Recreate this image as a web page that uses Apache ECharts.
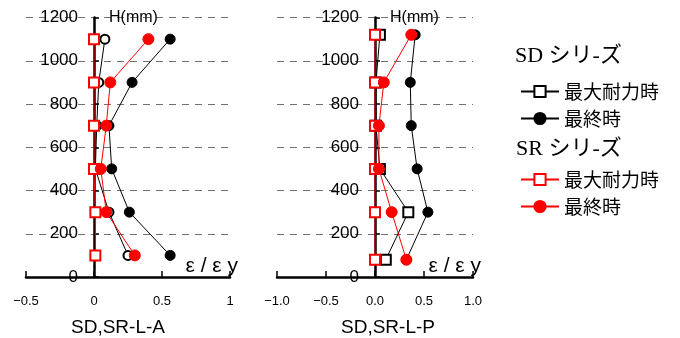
<!DOCTYPE html>
<html>
<head>
    <meta charset="utf-8"/>
    <title>ECharts</title>
    <script src="https://cdn.jsdelivr.net/npm/echarts@6/dist/echarts.min.js"></script>
    <style>
        body { margin: 0; background: #fff; }
    </style>
</head>
<body>
<div id="main" style="width: 680px; height: 338px;"></div>
<script type="text/javascript">
    // 高さ (mm)
    var heightsA = [1100, 900, 700, 500, 300, 100];
    var heightsP = [1120, 900, 700, 500, 300, 80];

    // ε / εy  (L-A)
    var sdMaxA = [0.08, 0.035, 0.02, 0.01, 0.11, 0.25];
    var sdFinA = [0.56, 0.28, 0.11, 0.13, 0.26, 0.56];
    var srMaxA = [0.0, 0.0, 0.0, 0.0, 0.01, 0.01];
    var srFinA = [0.40, 0.12, 0.09, 0.05, 0.09, 0.30];

    // ε / εy  (L-P)
    var sdMaxP = [0.05, 0.01, 0.01, 0.05, 0.34, 0.11];
    var sdFinP = [0.41, 0.36, 0.37, 0.43, 0.54, 0.32];
    var srMaxP = [0.0, 0.0, 0.0, 0.0, 0.0, 0.0];
    var srFinP = [0.37, 0.09, 0.04, 0.04, 0.17, 0.32];

    var yTicks = [0, 200, 400, 600, 800, 1000, 1200];
    var xLabelsA = {'-0.5': '−0.5', '0': '0', '0.5': '0.5', '1': '1'};
    var xLabelsP = {'-1': '−1.0', '-0.5': '−0.5', '0': '0.0', '0.5': '0.5', '1': '1.0'};

    function pairs(xs, hs) {
        return xs.map(function (v, i) { return [v, hs[i]]; });
    }

    var font = 'Liberation Sans, Arial, Noto Sans CJK JP, sans-serif';

    // グリッドの位置（px）
    var grids = [
        {left: 26, width: 204, xmin: -0.5},
        {left: 277, width: 196, xmin: -1}
    ];

    function makeX(idx, labels) {
        return {
            gridIndex: idx,
            type: 'value',
            min: grids[idx].xmin, max: 1, interval: 0.5,
            axisLine: {onZero: false, lineStyle: {color: '#000', width: 2.5}},
            axisTick: {inside: true, length: 6, lineStyle: {width: 1.5}},
            axisLabel: {
                margin: 18, color: '#000', fontSize: 13, fontFamily: font,
                formatter: function (v) { return labels[String(v)]; }
            },
            splitLine: {show: false},
            name: 'ε / ε y',
            nameLocation: 'end',
            nameGap: 8,
            nameTextStyle: {
                color: '#000', fontSize: 21, fontFamily: font,
                align: 'right', verticalAlign: 'bottom', padding: [0, 0, 0, 0]
            }
        };
    }

    function makeY(idx) {
        var g = grids[idx];
        // y軸を x=0 の位置へずらす
        var zeroPx = g.width * (0 - g.xmin) / (1 - g.xmin);
        return {
            gridIndex: idx,
            type: 'value',
            min: yTicks[0], max: yTicks[yTicks.length - 1], interval: 200,
            offset: -zeroPx,
            axisLine: {onZero: false, lineStyle: {color: '#000', width: 2.5}},
            axisTick: {inside: true, length: 5, lineStyle: {width: 1.5}},
            axisLabel: {
                margin: 16, color: '#000', fontSize: 17, fontFamily: font,
                formatter: function (v) { return String(v); }
            },
            splitLine: {show: true, lineStyle: {color: '#707070', type: [7, 6], width: 1}},
            name: 'H(mm)',
            nameLocation: 'end',
            nameGap: 0,
            nameTextStyle: {
                color: '#000', fontSize: 16, fontFamily: font,
                align: 'left', verticalAlign: 'middle', padding: [0, 0, 0, 15]
            }
        };
    }

    function line(name, idx, data, color, symbol, size) {
        return {
            name: name,
            type: 'line',
            xAxisIndex: idx, yAxisIndex: idx,
            data: data,
            symbol: symbol,
            symbolSize: size,
            showAllSymbol: true,
            animation: false,
            lineStyle: {color: color, width: 1},
            itemStyle: {color: color, borderColor: color, borderWidth: 1}
        };
    }

    var myChart = echarts.init(document.getElementById('main'));

    var serifFont = 'Liberation Serif, Noto Sans CJK JP, serif';

    var option = {
        backgroundColor: '#fff',
        title: [
            {text: 'SD シリ-ズ', left: 510, top: 40,
                textStyle: {fontFamily: serifFont, fontWeight: 'normal', fontSize: 22, color: '#000'}},
            {text: 'SR シリ-ズ', left: 511, top: 133,
                textStyle: {fontFamily: serifFont, fontWeight: 'normal', fontSize: 22, color: '#000'}},
            {text: 'SD,SR-L-A', left: 113, top: 313, textAlign: 'center',
                textStyle: {fontFamily: font, fontWeight: 'normal', fontSize: 19, color: '#000'}},
            {text: 'SD,SR-L-P', left: 383, top: 313, textAlign: 'center',
                textStyle: {fontFamily: font, fontWeight: 'normal', fontSize: 19, color: '#000'}}
        ],
        legend: [
            {
                data: ['SD最大耐力時', 'SD最終時'],
                orient: 'vertical', left: 515, top: 77,
                itemWidth: 38, itemHeight: 14, itemGap: 8,
                textStyle: {fontSize: 19, color: '#000', fontFamily: 'Noto Sans CJK JP'},
                formatter: function (n) { return n.replace(/^S[DR]/, ''); }
            },
            {
                data: ['SR最大耐力時', 'SR最終時'],
                orient: 'vertical', left: 515, top: 165,
                itemWidth: 38, itemHeight: 14, itemGap: 8,
                textStyle: {fontSize: 19, color: '#000', fontFamily: 'Noto Sans CJK JP'},
                formatter: function (n) { return n.replace(/^S[DR]/, ''); }
            }
        ],
        grid: grids.map(function (g) {
            return {
                left: g.left, width: g.width, top: 17.5, bottom: 61,
                containLabel: false, outerBoundsMode: 'none'
            };
        }),
        xAxis: [makeX(0, xLabelsA), makeX(1, xLabelsP)],
        yAxis: [makeY(0), makeY(1)],
        series: [
            // L-P（凡例のアイコンは先頭の系列から取る）
            line('SD最大耐力時', 1, pairs(sdMaxP, heightsP), '#000', 'emptyRect', 10),
            line('SD最終時', 1, pairs(sdFinP, heightsP), '#000', 'circle', 10),
            line('SR最大耐力時', 1, pairs(srMaxP, heightsP), '#ff0000', 'emptyRect', 10),
            line('SR最終時', 1, pairs(srFinP, heightsP), '#ff0000', 'circle', 11),
            // L-A
            line('SD最大耐力時', 0, pairs(sdMaxA, heightsA), '#000', 'emptyCircle', 9),
            line('SD最終時', 0, pairs(sdFinA, heightsA), '#000', 'circle', 10),
            line('SR最大耐力時', 0, pairs(srMaxA, heightsA), '#ff0000', 'emptyRect', 10),
            line('SR最終時', 0, pairs(srFinA, heightsA), '#ff0000', 'circle', 11)
        ]
    };

    myChart.setOption(option);
</script>
</body>
</html>
